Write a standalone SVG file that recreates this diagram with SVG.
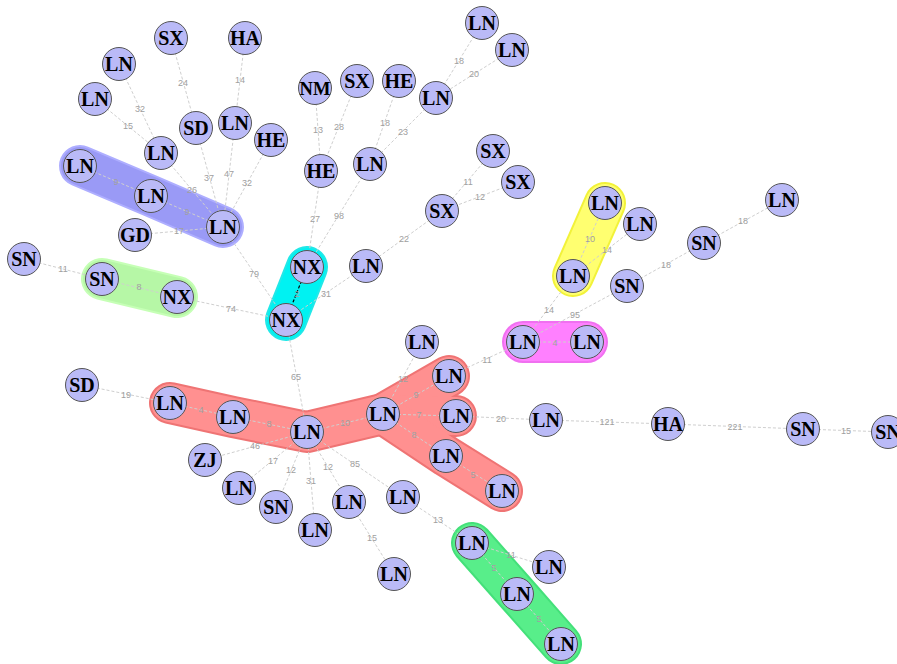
<svg xmlns="http://www.w3.org/2000/svg" width="897" height="664" viewBox="0 0 897 664">
<style>
.hull{fill:none;stroke-linecap:round;stroke-linejoin:round}
.ho{stroke-width:42}
.hi{stroke-width:38}
.e{stroke:#cfcfcf;stroke-width:1;stroke-dasharray:3,2;fill:none}
.ek{stroke:#000;stroke-width:1.2;stroke-dasharray:3,2;fill:none}
.l{font-family:"Liberation Sans",Arial,sans-serif;font-size:9px;fill:#a0a0a0;text-anchor:middle}
.n circle{fill:#babaf7;stroke:#555;stroke-width:1}
.n text{font-family:"Liberation Serif","Times New Roman",serif;font-weight:bold;font-size:20px;fill:#000;text-anchor:middle}
</style>
<rect width="897" height="664" fill="#fff"/>
<g id="hulls">
<polyline class="hull ho" stroke="#aeaeff" points="80,166 151,196 223,227"/>
<polyline class="hull hi" stroke="#9a9af6" points="80,166 151,196 223,227"/>
<polyline class="hull ho" stroke="#c6ffb6" points="102,279 177,297"/>
<polyline class="hull hi" stroke="#b6f7a6" points="102,279 177,297"/>
<polyline class="hull ho" stroke="#22e8e8" points="307,267 286,320"/>
<polyline class="hull hi" stroke="#00f2f2" points="307,267 286,320"/>
<polyline class="hull ho" stroke="#f2f23a" points="605,203 573,276"/>
<polyline class="hull hi" stroke="#ffff70" points="605,203 573,276"/>
<polyline class="hull ho" stroke="#f070f0" points="523,342 587,342"/>
<polyline class="hull hi" stroke="#ff80ff" points="523,342 587,342"/>
<g stroke="#ef7474">
<polyline class="hull ho" points="170,403 233,417 307,432 383,414 449,376"/>
<polyline class="hull ho" points="383,414 456,416"/>
<polyline class="hull ho" points="383,414 446,456 502,491"/>
</g>
<g stroke="#ff9090">
<polyline class="hull hi" points="170,403 233,417 307,432 383,414 449,376"/>
<polyline class="hull hi" points="383,414 456,416"/>
<polyline class="hull hi" points="383,414 446,456 502,491"/>
</g>
<polyline class="hull ho" stroke="#44e07a" points="472,543 517,594 561,644"/>
<polyline class="hull hi" stroke="#58ee8a" points="472,543 517,594 561,644"/>
</g>
<g id="connectors">
<line class="e" x1="171" y1="38" x2="196" y2="128"/>
<line class="e" x1="245" y1="38" x2="235" y2="123"/>
<line class="e" x1="119" y1="64" x2="161" y2="153"/>
<line class="e" x1="95" y1="99" x2="161" y2="153"/>
<line class="e" x1="196" y1="128" x2="223" y2="227"/>
<line class="e" x1="235" y1="123" x2="223" y2="227"/>
<line class="e" x1="271" y1="140" x2="223" y2="227"/>
<line class="e" x1="161" y1="153" x2="223" y2="227"/>
<line class="e" x1="80" y1="166" x2="151" y2="196" stroke="#e8e8ff"/>
<line class="e" x1="151" y1="196" x2="223" y2="227" stroke="#e8e8ff"/>
<line class="e" x1="135" y1="235" x2="223" y2="227"/>
<line class="e" x1="223" y1="227" x2="286" y2="320"/>
<line class="e" x1="482" y1="23" x2="436" y2="98"/>
<line class="e" x1="512" y1="50" x2="436" y2="98"/>
<line class="e" x1="315" y1="88" x2="321" y2="171"/>
<line class="e" x1="357" y1="81" x2="321" y2="171"/>
<line class="e" x1="399" y1="81" x2="370" y2="164"/>
<line class="e" x1="436" y1="98" x2="370" y2="164"/>
<line class="e" x1="493" y1="151" x2="442" y2="211"/>
<line class="e" x1="518" y1="182" x2="442" y2="211"/>
<line class="e" x1="321" y1="171" x2="307" y2="267"/>
<line class="e" x1="370" y1="164" x2="307" y2="267"/>
<line class="e" x1="442" y1="211" x2="366" y2="266"/>
<line class="e" x1="366" y1="266" x2="286" y2="320"/>
<line class="ek" x1="307" y1="267" x2="286" y2="320"/>
<line class="e" x1="24" y1="259" x2="102" y2="279"/>
<line class="e" x1="102" y1="279" x2="177" y2="297"/>
<line class="e" x1="177" y1="297" x2="286" y2="320"/>
<line class="e" x1="286" y1="320" x2="307" y2="432"/>
<line class="e" x1="82" y1="385" x2="170" y2="403"/>
<line class="e" x1="170" y1="403" x2="233" y2="417"/>
<line class="e" x1="233" y1="417" x2="307" y2="432"/>
<line class="e" x1="307" y1="432" x2="383" y2="414"/>
<line class="e" x1="383" y1="414" x2="422" y2="342"/>
<line class="e" x1="383" y1="414" x2="449" y2="376"/>
<line class="e" x1="383" y1="414" x2="456" y2="416"/>
<line class="e" x1="383" y1="414" x2="446" y2="456"/>
<line class="e" x1="446" y1="456" x2="502" y2="491"/>
<line class="e" x1="449" y1="376" x2="523" y2="342"/>
<line class="e" x1="456" y1="416" x2="546" y2="420"/>
<line class="e" x1="546" y1="420" x2="668" y2="424"/>
<line class="e" x1="668" y1="424" x2="803" y2="429"/>
<line class="e" x1="803" y1="429" x2="888" y2="432"/>
<line class="e" x1="523" y1="342" x2="587" y2="342"/>
<line class="e" x1="523" y1="342" x2="573" y2="276"/>
<line class="e" x1="523" y1="342" x2="627" y2="286"/>
<line class="e" x1="573" y1="276" x2="605" y2="203"/>
<line class="e" x1="573" y1="276" x2="640" y2="224"/>
<line class="e" x1="627" y1="286" x2="704" y2="243"/>
<line class="e" x1="704" y1="243" x2="782" y2="200"/>
<line class="e" x1="307" y1="432" x2="205" y2="460"/>
<line class="e" x1="307" y1="432" x2="239" y2="488"/>
<line class="e" x1="307" y1="432" x2="276" y2="507"/>
<line class="e" x1="307" y1="432" x2="315" y2="530"/>
<line class="e" x1="307" y1="432" x2="349" y2="502"/>
<line class="e" x1="307" y1="432" x2="403" y2="497"/>
<line class="e" x1="349" y1="502" x2="394" y2="574"/>
<line class="e" x1="403" y1="497" x2="472" y2="543"/>
<line class="e" x1="472" y1="543" x2="549" y2="567"/>
<line class="e" x1="472" y1="543" x2="517" y2="594"/>
<line class="e" x1="517" y1="594" x2="561" y2="644"/>
</g>
<g id="edge-labels">
<text class="l" x="183" y="86">24</text>
<text class="l" x="240" y="83">14</text>
<text class="l" x="140" y="112">32</text>
<text class="l" x="128" y="129">15</text>
<text class="l" x="209" y="181">37</text>
<text class="l" x="229" y="177">47</text>
<text class="l" x="247" y="186">32</text>
<text class="l" x="192" y="193">26</text>
<text class="l" x="116" y="185" fill="#c8c8f0">9</text>
<text class="l" x="187" y="215" fill="#c8c8f0">9</text>
<text class="l" x="179" y="234">17</text>
<text class="l" x="254" y="277">79</text>
<text class="l" x="459" y="64">18</text>
<text class="l" x="474" y="77">20</text>
<text class="l" x="318" y="133">13</text>
<text class="l" x="339" y="130">28</text>
<text class="l" x="385" y="126">18</text>
<text class="l" x="403" y="135">23</text>
<text class="l" x="468" y="185">11</text>
<text class="l" x="480" y="200">12</text>
<text class="l" x="315" y="222">27</text>
<text class="l" x="339" y="219">98</text>
<text class="l" x="404" y="242">22</text>
<text class="l" x="326" y="297">31</text>
<text class="l" x="297" y="297" fill="#8fd0d0">2</text>
<text class="l" x="63" y="272">11</text>
<text class="l" x="139" y="290">8</text>
<text class="l" x="231" y="312">74</text>
<text class="l" x="296" y="380">65</text>
<text class="l" x="126" y="398">19</text>
<text class="l" x="201" y="413">4</text>
<text class="l" x="269" y="427">8</text>
<text class="l" x="345" y="426">10</text>
<text class="l" x="403" y="382">12</text>
<text class="l" x="416" y="398">9</text>
<text class="l" x="419" y="418">7</text>
<text class="l" x="414" y="438">8</text>
<text class="l" x="473" y="478">5</text>
<text class="l" x="487" y="363">11</text>
<text class="l" x="501" y="422">20</text>
<text class="l" x="607" y="425">121</text>
<text class="l" x="735" y="430">221</text>
<text class="l" x="846" y="434">15</text>
<text class="l" x="555" y="346">4</text>
<text class="l" x="549" y="313">14</text>
<text class="l" x="575" y="318">95</text>
<text class="l" x="590" y="242">10</text>
<text class="l" x="607" y="253">14</text>
<text class="l" x="666" y="268">18</text>
<text class="l" x="743" y="224">18</text>
<text class="l" x="255" y="449">46</text>
<text class="l" x="273" y="464">17</text>
<text class="l" x="291" y="473">12</text>
<text class="l" x="311" y="484">31</text>
<text class="l" x="328" y="470">12</text>
<text class="l" x="355" y="467">85</text>
<text class="l" x="372" y="541">15</text>
<text class="l" x="438" y="523">13</text>
<text class="l" x="511" y="558">11</text>
<text class="l" x="494" y="571">5</text>
<text class="l" x="539" y="622">5</text>
</g>
<g id="nodes">
<g id="n1" class="n"><circle cx="171" cy="38" r="16.5"/><text x="171" y="45">SX</text></g>
<g id="n2" class="n"><circle cx="245" cy="38" r="16.5"/><text x="245" y="45">HA</text></g>
<g id="n3" class="n"><circle cx="119" cy="64" r="16.5"/><text x="119" y="71">LN</text></g>
<g id="n4" class="n"><circle cx="95" cy="99" r="16.5"/><text x="95" y="106">LN</text></g>
<g id="n5" class="n"><circle cx="196" cy="128" r="16.5"/><text x="196" y="135">SD</text></g>
<g id="n6" class="n"><circle cx="235" cy="123" r="16.5"/><text x="235" y="130">LN</text></g>
<g id="n7" class="n"><circle cx="271" cy="140" r="16.5"/><text x="271" y="147">HE</text></g>
<g id="n8" class="n"><circle cx="161" cy="153" r="16.5"/><text x="161" y="160">LN</text></g>
<g id="n9" class="n"><circle cx="80" cy="166" r="16.5"/><text x="80" y="173">LN</text></g>
<g id="n10" class="n"><circle cx="151" cy="196" r="16.5"/><text x="151" y="203">LN</text></g>
<g id="n11" class="n"><circle cx="223" cy="227" r="16.5"/><text x="223" y="234">LN</text></g>
<g id="n12" class="n"><circle cx="135" cy="235" r="16.5"/><text x="135" y="242">GD</text></g>
<g id="n13" class="n"><circle cx="482" cy="23" r="16.5"/><text x="482" y="30">LN</text></g>
<g id="n14" class="n"><circle cx="512" cy="50" r="16.5"/><text x="512" y="57">LN</text></g>
<g id="n15" class="n"><circle cx="315" cy="88" r="16.5"/><text x="315" y="94.5" style="font-size:18.5px">NM</text></g>
<g id="n16" class="n"><circle cx="357" cy="81" r="16.5"/><text x="357" y="88">SX</text></g>
<g id="n17" class="n"><circle cx="399" cy="81" r="16.5"/><text x="399" y="88">HE</text></g>
<g id="n18" class="n"><circle cx="436" cy="98" r="16.5"/><text x="436" y="105">LN</text></g>
<g id="n19" class="n"><circle cx="493" cy="151" r="16.5"/><text x="493" y="158">SX</text></g>
<g id="n20" class="n"><circle cx="518" cy="182" r="16.5"/><text x="518" y="189">SX</text></g>
<g id="n21" class="n"><circle cx="321" cy="171" r="16.5"/><text x="321" y="178">HE</text></g>
<g id="n22" class="n"><circle cx="370" cy="164" r="16.5"/><text x="370" y="171">LN</text></g>
<g id="n23" class="n"><circle cx="442" cy="211" r="16.5"/><text x="442" y="218">SX</text></g>
<g id="n24" class="n"><circle cx="307" cy="267" r="16.5"/><text x="307" y="274">NX</text></g>
<g id="n25" class="n"><circle cx="366" cy="266" r="16.5"/><text x="366" y="273">LN</text></g>
<g id="n26" class="n"><circle cx="286" cy="320" r="16.5"/><text x="286" y="327">NX</text></g>
<g id="n27" class="n"><circle cx="24" cy="259" r="16.5"/><text x="24" y="266">SN</text></g>
<g id="n28" class="n"><circle cx="102" cy="279" r="16.5"/><text x="102" y="286">SN</text></g>
<g id="n29" class="n"><circle cx="177" cy="297" r="16.5"/><text x="177" y="304">NX</text></g>
<g id="n30" class="n"><circle cx="82" cy="385" r="16.5"/><text x="82" y="392">SD</text></g>
<g id="n31" class="n"><circle cx="170" cy="403" r="16.5"/><text x="170" y="410">LN</text></g>
<g id="n32" class="n"><circle cx="233" cy="417" r="16.5"/><text x="233" y="424">LN</text></g>
<g id="n33" class="n"><circle cx="307" cy="432" r="16.5"/><text x="307" y="439">LN</text></g>
<g id="n34" class="n"><circle cx="383" cy="414" r="16.5"/><text x="383" y="421">LN</text></g>
<g id="n35" class="n"><circle cx="422" cy="342" r="16.5"/><text x="422" y="349">LN</text></g>
<g id="n36" class="n"><circle cx="449" cy="376" r="16.5"/><text x="449" y="383">LN</text></g>
<g id="n37" class="n"><circle cx="456" cy="416" r="16.5"/><text x="456" y="423">LN</text></g>
<g id="n38" class="n"><circle cx="446" cy="456" r="16.5"/><text x="446" y="463">LN</text></g>
<g id="n39" class="n"><circle cx="502" cy="491" r="16.5"/><text x="502" y="498">LN</text></g>
<g id="n40" class="n"><circle cx="546" cy="420" r="16.5"/><text x="546" y="427">LN</text></g>
<g id="n41" class="n"><circle cx="668" cy="424" r="16.5"/><text x="668" y="431">HA</text></g>
<g id="n42" class="n"><circle cx="803" cy="429" r="16.5"/><text x="803" y="436">SN</text></g>
<g id="n43" class="n"><circle cx="888" cy="432" r="16.5"/><text x="888" y="439">SN</text></g>
<g id="n44" class="n"><circle cx="523" cy="342" r="16.5"/><text x="523" y="349">LN</text></g>
<g id="n45" class="n"><circle cx="587" cy="342" r="16.5"/><text x="587" y="349">LN</text></g>
<g id="n46" class="n"><circle cx="573" cy="276" r="16.5"/><text x="573" y="283">LN</text></g>
<g id="n47" class="n"><circle cx="605" cy="203" r="16.5"/><text x="605" y="210">LN</text></g>
<g id="n48" class="n"><circle cx="640" cy="224" r="16.5"/><text x="640" y="231">LN</text></g>
<g id="n49" class="n"><circle cx="627" cy="286" r="16.5"/><text x="627" y="293">SN</text></g>
<g id="n50" class="n"><circle cx="704" cy="243" r="16.5"/><text x="704" y="250">SN</text></g>
<g id="n51" class="n"><circle cx="782" cy="200" r="16.5"/><text x="782" y="207">LN</text></g>
<g id="n52" class="n"><circle cx="205" cy="460" r="16.5"/><text x="205" y="467">ZJ</text></g>
<g id="n53" class="n"><circle cx="239" cy="488" r="16.5"/><text x="239" y="495">LN</text></g>
<g id="n54" class="n"><circle cx="276" cy="507" r="16.5"/><text x="276" y="514">SN</text></g>
<g id="n55" class="n"><circle cx="315" cy="530" r="16.5"/><text x="315" y="537">LN</text></g>
<g id="n56" class="n"><circle cx="349" cy="502" r="16.5"/><text x="349" y="509">LN</text></g>
<g id="n57" class="n"><circle cx="403" cy="497" r="16.5"/><text x="403" y="504">LN</text></g>
<g id="n58" class="n"><circle cx="394" cy="574" r="16.5"/><text x="394" y="581">LN</text></g>
<g id="n59" class="n"><circle cx="472" cy="543" r="16.5"/><text x="472" y="550">LN</text></g>
<g id="n60" class="n"><circle cx="549" cy="567" r="16.5"/><text x="549" y="574">LN</text></g>
<g id="n61" class="n"><circle cx="517" cy="594" r="16.5"/><text x="517" y="601">LN</text></g>
<g id="n62" class="n"><circle cx="561" cy="644" r="16.5"/><text x="561" y="651">LN</text></g>
</g>
</svg>
